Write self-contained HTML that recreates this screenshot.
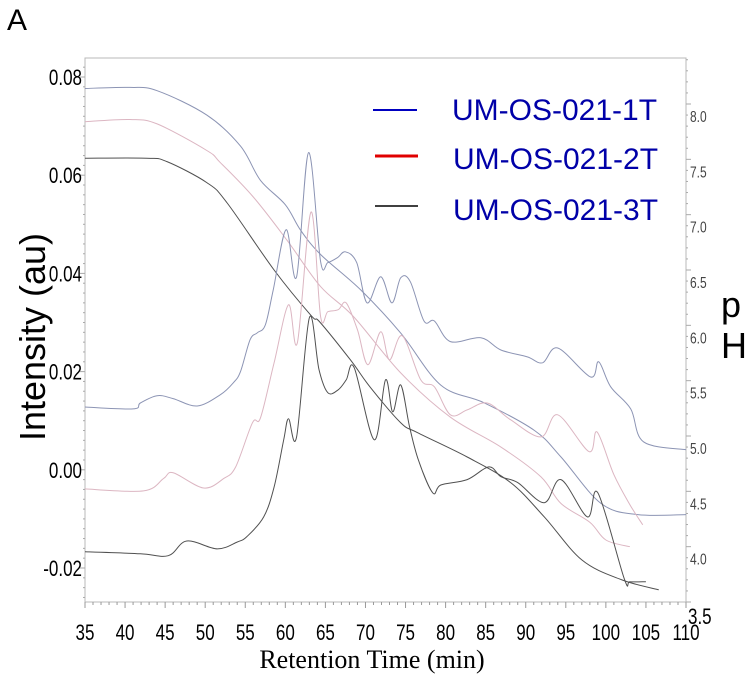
<!DOCTYPE html>
<html><head><meta charset="utf-8"><style>
html,body{margin:0;padding:0;background:#fff;}
svg{display:block;}
</style></head><body>
<svg id="chart" width="749" height="684" viewBox="0 0 749 684" xmlns="http://www.w3.org/2000/svg" font-family="Liberation Sans, Arial, sans-serif">
<text x="7" y="30" font-size="30">A</text>
<g id="axes"></g>
<g id="series"></g>
<text transform="translate(45,337) rotate(-90)" text-anchor="middle" font-size="36">Intensity (au)</text>
<text x="721" y="317" font-size="36">p</text>
<text x="721" y="358" font-size="36">H</text>
<text x="372" y="668" text-anchor="middle" font-size="26" font-family="Liberation Serif, Times New Roman, serif">Retention Time (min)</text>
<g>
<line x1="373" y1="110" x2="417" y2="110" stroke="#0000c0" stroke-width="2"/>
<line x1="375" y1="156" x2="418" y2="156" stroke="#e00000" stroke-width="3"/>
<line x1="375" y1="206" x2="418" y2="206" stroke="#000" stroke-width="1.5"/>
<text x="452" y="120" font-size="30" fill="#0000a8">UM-OS-021-1T</text>
<text x="453" y="169" font-size="30" fill="#0000a8">UM-OS-021-2T</text>
<text x="453" y="220" font-size="30" fill="#0000a8">UM-OS-021-3T</text>
</g>
</svg>
<script>
var xTicks = [35,40,45,50,55,60,65,70,75,80,85,90,95,100,105,110];
var yTicks = [-0.02,0.00,0.02,0.04,0.06,0.08];
var yTickLabels = ["-0.02","0.00","0.02","0.04","0.06","0.08"];
var phTicks = [3.5,4.0,4.5,5.0,5.5,6.0,6.5,7.0,7.5,8.0];
var phTickLabels = ["3.5","4.0","4.5","5.0","5.5","6.0","6.5","7.0","7.5","8.0"];

var t1 = [35,41,41.9,44,46,49,51.9,53.5,54.4,55.6,56.5,57.5,58.5,60.1,61.4,62.9,64.4,65.3,66.5,67.5,68.9,70.2,71.9,73.3,74.4,75.6,77.3,78.6,80.6,84.4,86.9,90.2,92.1,94,98.1,99.1,100.6,103.1,104.7,110];
var i1 = [0.0128,0.0124,0.0136,0.0151,0.0145,0.0130,0.0153,0.0177,0.0200,0.0265,0.0279,0.0295,0.0367,0.0489,0.0393,0.0646,0.0424,0.0422,0.0432,0.0444,0.0422,0.0340,0.0393,0.0340,0.0391,0.0383,0.0303,0.0303,0.0261,0.0269,0.0244,0.0230,0.0218,0.0248,0.0189,0.0220,0.0169,0.0124,0.0057,0.0041];
var t2 = [35,42.3,44.8,46,49.8,52.3,53.8,55.9,56.9,58.6,60.4,61.5,63.2,64.4,65.3,66.6,67.6,69,70.3,71.9,73,74.6,76.9,78.6,80.6,82.7,85.2,88.1,91.9,94,97.9,98.9,101,103,104.6];
var i2 = [-0.0039,-0.0043,-0.0018,-0.0006,-0.0037,-0.0018,0.0006,0.0096,0.0106,0.0218,0.0336,0.0259,0.0525,0.0312,0.0322,0.0326,0.0340,0.0285,0.0214,0.0281,0.0224,0.0273,0.0183,0.0169,0.0112,0.0122,0.0136,0.0102,0.0067,0.0112,0.0037,0.0077,-0.0010,-0.0071,-0.0112];
var t3 = [35,41.9,45.4,47.7,51.5,54,55.2,57.3,58.6,59.8,60.4,61.4,63,64.2,65.3,66.6,67.6,68.6,71.1,72.5,73.4,74.4,75.5,76.6,78.4,79.4,82.7,85.4,86.9,89,92.3,94.4,97.7,99,102.3,103,105];
var i3 = [-0.0167,-0.0171,-0.0175,-0.0145,-0.0161,-0.0147,-0.0136,-0.0096,-0.0035,0.0061,0.0104,0.0067,0.0310,0.0204,0.0157,0.0163,0.0183,0.0208,0.0061,0.0183,0.0118,0.0173,0.0088,0.0020,-0.0047,-0.0031,-0.0020,0.0006,-0.0014,-0.0026,-0.0067,-0.0020,-0.0096,-0.0047,-0.0222,-0.0228,-0.0228];

var pt1 = [35,40.6,44,50.2,54.4,56.9,60,61.9,64.4,69.4,74.4,79.4,84.8,91.1,94.4,99.4,104,110];
var ph1 = [8.14,8.15,8.12,7.90,7.62,7.31,7.09,6.86,6.64,6.32,5.93,5.46,5.30,5.05,4.81,4.39,4.29,4.29];
var pt2 = [35,40.6,44,50.2,51.9,56,60.2,64.4,68.5,74.4,80.6,86.9,91.9,94.4,98,100,103];
var ph2 = [7.84,7.86,7.82,7.58,7.47,7.16,6.77,6.35,6.08,5.57,5.17,4.90,4.63,4.39,4.22,4.06,4.00];
var pt3 = [35,42.7,45.2,50.2,52.7,58.6,63.2,64.3,68.1,70.6,74.4,76.5,82.7,88.1,92.3,97,102,106.6];
var ph3 = [7.51,7.51,7.48,7.29,7.11,6.50,6.09,6.03,5.69,5.44,5.12,5.03,4.81,4.58,4.27,3.88,3.70,3.61];

var L=85,R=686,T=58,B=602;
function xs(t){return L+(t-35)*(R-L)/75;}
function ys(v){return 469.8-v*4910;}
function yp(p){return B-(p-3.5)*(B-104)/4.5;}
var NS="http://www.w3.org/2000/svg";
function mk(tag,attrs,parent){var e=document.createElementNS(NS,tag);for(var k in attrs)e.setAttribute(k,attrs[k]);parent.appendChild(e);return e;}
var ax=document.getElementById('axes'), sg=document.getElementById('series');

var fr=mk('rect',{x:L,y:T,width:R-L,height:B-T,fill:'none',stroke:'#b8b8b8','stroke-width':1},ax);


for(var m=35;m<=110;m++){
  var tk=mk('line',{x1:xs(m),x2:xs(m),y1:B,y2:B+(m%5===0?6:3),stroke:'#999','stroke-width':1},ax);
  
  
}
xTicks.forEach(function(t){
  var tx=mk('text',{x:xs(t),y:0,'text-anchor':'middle','font-size':17,transform:'translate(0,640) scale(1,1.3)'},ax);
  tx.textContent=String(t);
  
  
});
for(var k=-26;k<=83;k+=2){
  var v=k/1000;
  var lt=mk('line',{x1:L-(k%20===0?5:2),x2:L,y1:ys(v),y2:ys(v),stroke:'#aaa','stroke-width':1},ax);
  
  
}
yTicks.forEach(function(v,i){
  var tx=mk('text',{x:82,y:0,'text-anchor':'end','font-size':17,transform:'translate(0,'+(ys(v)+8)+') scale(1,1.3)'},ax);
  tx.textContent=yTickLabels[i];
  
  
});
for(var q=35;q<=84;q++){
  var p=q/10;
  var rt=mk('line',{x1:R,x2:R+(q%5===0?5:2),y1:yp(p),y2:yp(p),stroke:'#aaa','stroke-width':1},ax);
  
  
}
phTicks.forEach(function(p,i){
  var tx=mk('text',{x:i===0?688:690,y:0,'font-size':i===0?17:12,transform:'translate(0,'+(yp(p)+(i===0?22:18))+') scale(1,1.3)',fill:i===0?'#000':'#444'},ax);
  tx.textContent=phTickLabels[i];
  
  
});

function pathD(xsArr,ysArr){
  var P=xsArr.map(function(x,i){return [x,ysArr[i]];});
  var d='M'+P[0][0].toFixed(1)+','+P[0][1].toFixed(1);
  for(var i=0;i<P.length-1;i++){
    var p0=P[Math.max(0,i-1)],p1=P[i],p2=P[i+1],p3=P[Math.min(P.length-1,i+2)];
    var c1x=p1[0]+(p2[0]-p0[0])/6,c1y=p1[1]+(p2[1]-p0[1])/6;
    var c2x=p2[0]-(p3[0]-p1[0])/6,c2y=p2[1]-(p3[1]-p1[1])/6;
    d+='C'+c1x.toFixed(1)+','+c1y.toFixed(1)+' '+c2x.toFixed(1)+','+c2y.toFixed(1)+' '+p2[0].toFixed(1)+','+p2[1].toFixed(1);
  }
  return d;
}
function drawLine(tArr,vArr,yfn,color,name){
  var pth=mk('path',{d:pathD(tArr.map(xs),vArr.map(yfn)),fill:'none',stroke:color,'stroke-width':1},sg);
  
  
}
drawLine(pt1,ph1,yp,'#8c94b4','ph-line-1t');
drawLine(pt2,ph2,yp,'#dcb6c2','ph-line-2t');
drawLine(pt3,ph3,yp,'#505050','ph-line-3t');
drawLine(t1,i1,ys,'#8c94b4','intensity-line-1t');
drawLine(t2,i2,ys,'#dcb6c2','intensity-line-2t');
drawLine(t3,i3,ys,'#505050','intensity-line-3t');
</script>
</body></html>
